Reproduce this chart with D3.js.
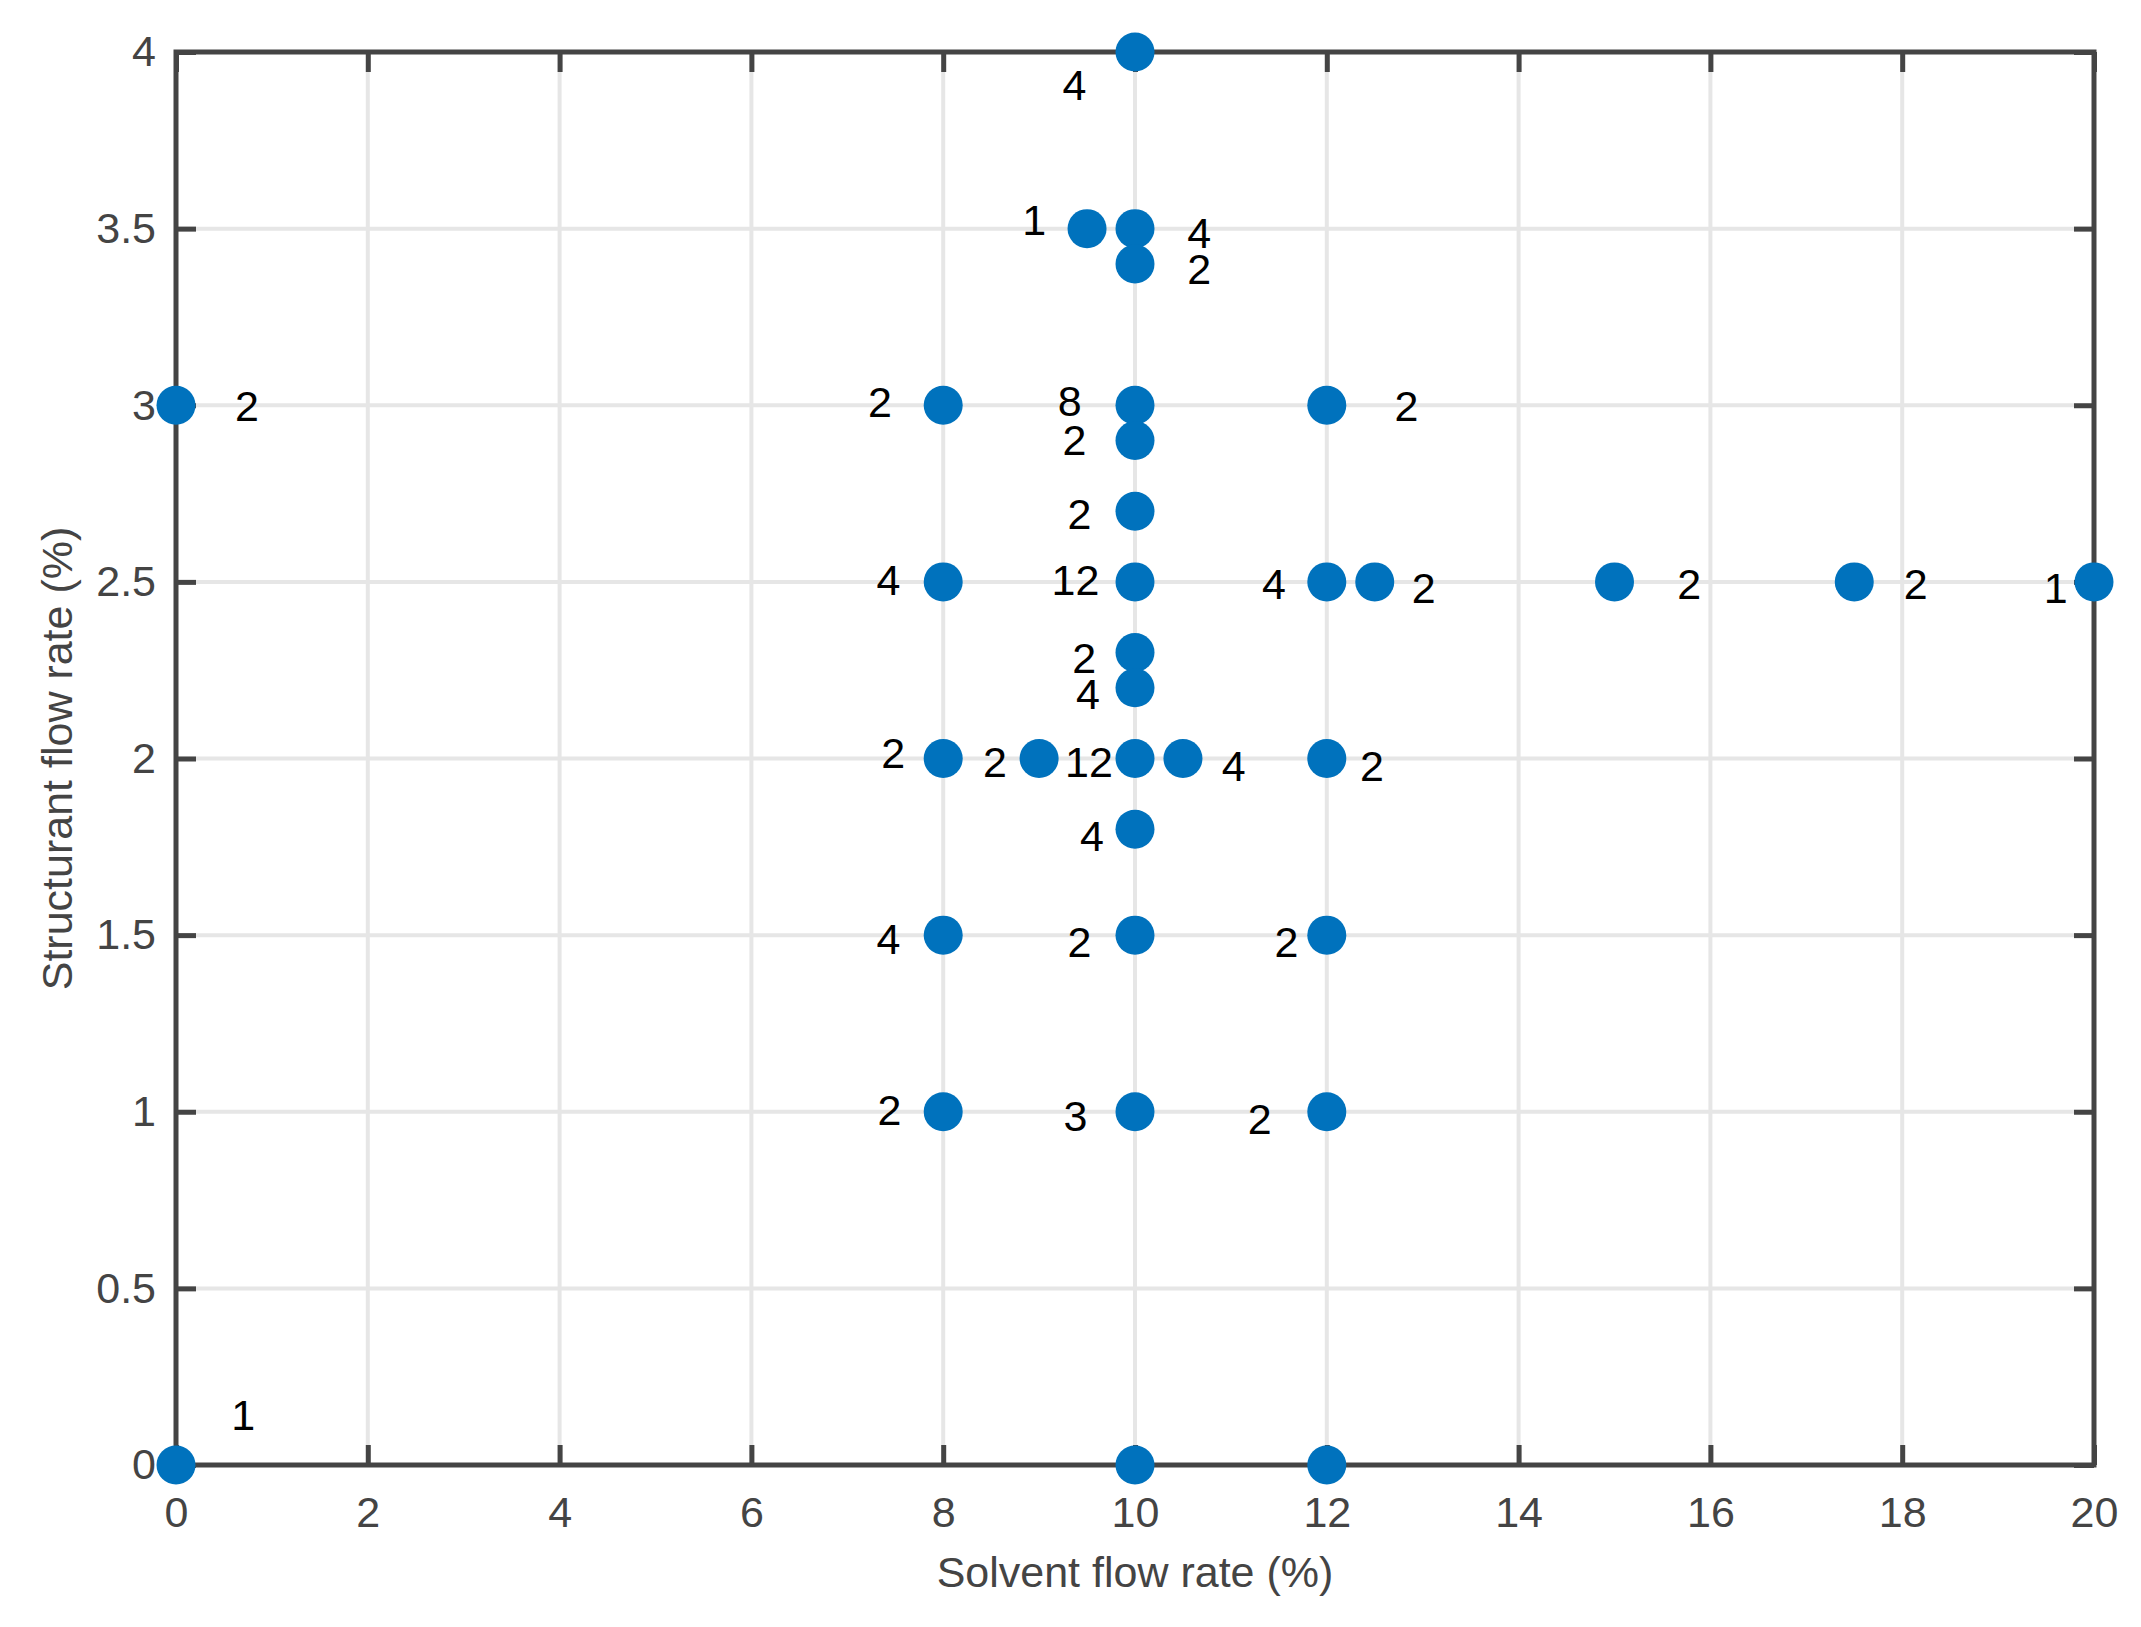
<!DOCTYPE html>
<html>
<head>
<meta charset="utf-8">
<script src="https://cdn.jsdelivr.net/npm/d3@7"></script>
<style>
  body { margin: 0; background: #fff; }
  text { font-family: "Liberation Sans", Arial, Helvetica, sans-serif; }
</style>
</head>
<body>
<div id="chart"></div>
<script>
// Data points (solvent %, structurant %)
let solvent = [0, 10, 12, 0, 8, 10, 10, 12, 10, 9.5, 10, 10, 10,
               8, 10, 12, 12.5, 15, 17.5, 20, 10, 10,
               8, 9, 10, 10.5, 12, 10, 8, 10, 12, 8, 10, 12];
let structurant = [0, 0, 0, 3, 3, 3, 2.9, 3, 4, 3.5, 3.5, 3.4, 2.7,
                   2.5, 2.5, 2.5, 2.5, 2.5, 2.5, 2.5, 2.3, 2.2,
                   2, 2, 2, 2, 2, 1.8, 1.5, 1.5, 1.5, 1, 1, 1];
let counts = ["1", "", "", "2", "2", "8", "2", "2", "4", "1", "4", "2", "2",
              "4", "12", "4", "2", "2", "2", "1", "2", "4",
              "2", "2", "12", "4", "2", "4", "4", "2", "2", "2", "3", "2"];
// Where each count label sits, in data units
let labelX = [0.70, 0, 0, 0.74, 7.34, 9.32, 9.37, 12.83, 9.37, 8.95, 10.67, 10.67, 9.42,
              7.43, 9.38, 11.45, 13.01, 15.78, 18.14, 19.60, 9.47, 9.51,
              7.48, 8.54, 9.52, 11.03, 12.47, 9.55, 7.43, 9.42, 11.58, 7.44, 9.38, 11.30];
let labelY = [0.143, 0, 0, 3.0, 3.01, 3.012, 2.903, 3.0, 3.909, 3.527, 3.49, 3.386, 2.693,
              2.508, 2.508, 2.495, 2.485, 2.494, 2.494, 2.483, 2.287, 2.183,
              2.018, 1.992, 1.992, 1.980, 1.980, 1.783, 1.490, 1.481, 1.481, 1.005, 0.99, 0.98];

let xTicks = [0, 2, 4, 6, 8, 10, 12, 14, 16, 18, 20];
let yTicks = [0, 0.5, 1, 1.5, 2, 2.5, 3, 3.5, 4];

let width = 2141, height = 1627;
let plotLeft = 176, plotRight = 2094, plotTop = 52, plotBottom = 1465;
let axisColor = "#444444", gridColor = "#e6e6e6", dotColor = "#0072BD";
let fontSize = 43, tickLen = 20;

let x = d3.scaleLinear().domain([0, 20]).range([plotLeft, plotRight]);
let y = d3.scaleLinear().domain([0, 4]).range([plotBottom, plotTop]);

let svg = d3.select("#chart")
    .append("svg")
        .attr("width", width)
        .attr("height", height);

// Grid
svg.append("g")
    .selectAll("line")
    .data(xTicks.slice(1, -1))
    .join("line")
        .attr("x1", d => x(d)).attr("x2", d => x(d))
        .attr("y1", plotTop).attr("y2", plotBottom)
        .attr("stroke", gridColor).attr("stroke-width", 4);
svg.append("g")
    .selectAll("line")
    .data(yTicks.slice(1, -1))
    .join("line")
        .attr("y1", d => y(d)).attr("y2", d => y(d))
        .attr("x1", plotLeft).attr("x2", plotRight)
        .attr("stroke", gridColor).attr("stroke-width", 4);

// Axes (ticks on all four sides, pointing inward)
let xBottom = d3.axisBottom(x).tickValues(xTicks).tickSize(-tickLen).tickPadding(31).tickFormat(d3.format("d"));
let xTop = d3.axisTop(x).tickValues(xTicks).tickSize(-tickLen).tickFormat("");
let yLeft = d3.axisLeft(y).tickValues(yTicks).tickSize(-tickLen).tickPadding(20).tickFormat(d => d);
let yRight = d3.axisRight(y).tickValues(yTicks).tickSize(-tickLen).tickFormat("");

let styleAxis = g => {
    g.select(".domain").remove();
    g.selectAll(".tick line").attr("stroke", axisColor).attr("stroke-width", 5);
    g.selectAll(".tick text")
        .attr("fill", axisColor)
        .style("font-size", fontSize + "px")
        .style("font-family", "'Liberation Sans', Arial, sans-serif");
};

svg.append("g").attr("transform", `translate(0,${plotBottom})`).call(xBottom).call(styleAxis);
svg.append("g").attr("transform", `translate(0,${plotTop})`).call(xTop).call(styleAxis);
svg.append("g").attr("transform", `translate(${plotLeft},0)`).call(yLeft).call(styleAxis);
svg.append("g").attr("transform", `translate(${plotRight},0)`).call(yRight).call(styleAxis);

// Box
svg.append("rect")
    .attr("x", plotLeft).attr("y", plotTop)
    .attr("width", plotRight - plotLeft).attr("height", plotBottom - plotTop)
    .attr("fill", "none")
    .attr("stroke", axisColor)
    .attr("stroke-width", 5);

// Axis labels
svg.append("text")
    .attr("x", (plotLeft + plotRight) / 2)
    .attr("y", 1587)
    .attr("text-anchor", "middle")
    .attr("fill", axisColor)
    .style("font-size", fontSize + "px")
    .text("Solvent flow rate (%)");

svg.append("text")
    .attr("transform", `translate(72,${(plotTop + plotBottom) / 2}) rotate(-90)`)
    .attr("text-anchor", "middle")
    .attr("fill", axisColor)
    .style("font-size", fontSize + "px")
    .text("Structurant flow rate (%)");

// Points
let points = solvent.map((s, i) => ({ s: s, f: structurant[i], n: counts[i], lx: labelX[i], ly: labelY[i] }));

svg.append("g")
    .selectAll("circle")
    .data(points)
    .join("circle")
        .attr("cx", d => x(d.s))
        .attr("cy", d => y(d.f))
        .attr("r", 19.5)
        .attr("fill", dotColor);

// Count labels
svg.append("g")
    .selectAll("text")
    .data(points.filter(d => d.n !== ""))
    .join("text")
        .attr("x", d => x(d.lx))
        .attr("y", d => y(d.ly))
        .attr("dy", "0.36em")
        .attr("text-anchor", "middle")
        .attr("fill", "#000")
        .style("font-size", fontSize + "px")
        .text(d => d.n);
</script>
</body>
</html>
